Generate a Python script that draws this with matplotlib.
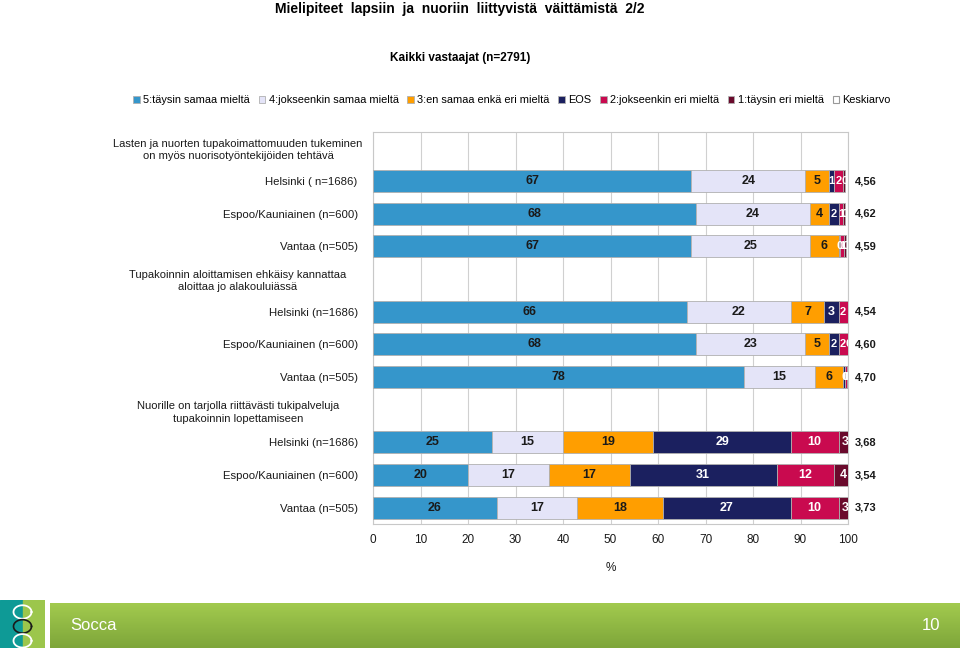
import numpy as np
import matplotlib.pyplot as plt
from matplotlib.patches import Rectangle

plt.rcParams['font.family'] = ['Liberation Sans', 'DejaVu Sans']

# data
series = ['5:täysin samaa mieltä', '4:jokseenkin samaa mieltä', '3:en samaa enkä eri mieltä',
          'EOS', '2:jokseenkin eri mieltä', '1:täysin eri mieltä']
colors = ['#3596CB', '#E4E4F8', '#FF9E00', '#1B205F', '#C90A4F', '#6A0A2C']
text_colors = ['#1a1a1a', '#1a1a1a', '#1a1a1a', 'white', 'white', 'white']

headers = ['Lasten ja nuorten tupakoimattomuuden tukeminen\non myös nuorisotyöntekijöiden tehtävä',
           'Tupakoinnin aloittamisen ehkäisy kannattaa\naloittaa jo alakouluiässä',
           'Nuorille on tarjolla riittävästi tukipalveluja\ntupakoinnin lopettamiseen']
row_labels = ['Helsinki ( n=1686)', 'Espoo/Kauniainen (n=600)', 'Vantaa (n=505)',
              'Helsinki (n=1686)', 'Espoo/Kauniainen (n=600)', 'Vantaa (n=505)',
              'Helsinki (n=1686)', 'Espoo/Kauniainen (n=600)', 'Vantaa (n=505)']

s5 = [67, 68, 67, 66, 68, 78, 25, 20, 26]
s4 = [24, 24, 25, 22, 23, 15, 15, 17, 17]
s3 = [5, 4, 6, 7, 5, 6, 19, 17, 18]
eos = [1, 2, 0.4, 3, 2, 0.4, 29, 31, 27]
s2 = [2, 1, 0.8, 2, 2, 0.4, 10, 12, 10]
s1 = [0.4, 0.4, 0.4, 1, 0.4, 0.4, 3, 4, 3]
means = ['4,56', '4,62', '4,59', '4,54', '4,60', '4,70', '3,68', '3,54', '3,73']

data = np.array([s5, s4, s3, eos, s2, s1])

fig = plt.figure(figsize=(9.6, 6.48), dpi=100)
ax = fig.add_axes([373/960, 1 - 524/648, 475/960, 392/648])

# row positions: header rows 0, 4, 8 are empty
ypos = [1, 2, 3, 5, 6, 7, 9, 10, 11]
left = np.zeros(len(ypos))
for i in range(6):
    ax.barh(ypos, data[i], left=left, height=0.67, color=colors[i],
            edgecolor='#b0b0b0', linewidth=0.6, label=series[i], zorder=3)
    for j, y in enumerate(ypos):
        v = data[i][j]
        fs = 9 if v >= 2.5 else 8
        ax.text(left[j] + v / 2, y, '%.0f' % v, ha='center', va='center',
                fontsize=fs, fontweight='bold', color=text_colors[i], zorder=4,
                clip_on=True)
    left = left + data[i]

for j, y in enumerate(ypos):
    ax.text(101.5, y, means[j], ha='left', va='center', fontsize=8,
            fontweight='bold', color='#1a1a1a', clip_on=False)

ax.set_xlim(0, 100)
ax.set_ylim(11.5, -0.5)
ax.set_xticks(range(0, 101, 10))
ax.set_yticks(ypos)
ax.set_yticklabels(row_labels, fontsize=8.2, color='#1a1a1a')
ax.tick_params(axis='both', length=0)
ax.tick_params(axis='y', pad=11)
ax.tick_params(axis='x', labelsize=8.5, pad=7, labelcolor='#1a1a1a')
ax.grid(axis='x', color='#d0d0d0', linewidth=0.8, zorder=0)
for sp in ax.spines.values():
    sp.set_color('#c8c8c8')
ax.set_xlabel('%', fontsize=8.5, labelpad=12, color='#1a1a1a')

for k, h in enumerate(headers):
    y_fig = 1 - (150 + 4 * k * 32.8) / 648
    fig.text(238/960, y_fig, h, ha='center', va='center', fontsize=8,
             color='#1a1a1a', linespacing=1.3)

fig.text(460/960, 1 - 9/648, 'Mielipiteet  lapsiin  ja  nuoriin  liittyvistä  väittämistä  2/2',
         ha='center', va='center', fontsize=10, fontweight='bold')
fig.text(460/960, 1 - 58/648, 'Kaikki vastaajat (n=2791)', ha='center', va='center',
         fontsize=8.5, fontweight='bold')

handles, labels = ax.get_legend_handles_labels()
handles.append(Rectangle((0, 0), 1, 1, facecolor='white', edgecolor='#999999', linewidth=0.8))
labels.append('Keskiarvo')
fig.legend(handles, labels, loc='center', bbox_to_anchor=(512/960, 1 - 100/648), ncol=7,
           frameon=False, fontsize=7.9, handlelength=0.6, handleheight=0.6,
           handletextpad=0.3, columnspacing=0.8)

# footer banner
bax = fig.add_axes([50/960, 0, 910/960, 45/648])
grad = np.linspace(0, 1, 50).reshape(-1, 1)
bax.imshow(grad, aspect='auto', cmap=plt.matplotlib.colors.LinearSegmentedColormap.from_list(
    'g', ['#A2CA4E', '#7EA63A']), extent=[0, 1, 0, 1])
bax.set_axis_off()
bax.text(0.022, 0.5, 'Socca', color='white', fontsize=12, va='center', ha='left')
bax.text(0.978, 0.5, '10', color='white', fontsize=12, va='center', ha='right')

lax = fig.add_axes([0, 0, 45/960, 48/648])
lax.add_patch(Rectangle((0, 0), 0.5, 1, color='#0E9A96'))
lax.add_patch(Rectangle((0.5, 0), 0.5, 1, color='#9CC64C'))
t = np.linspace(0, 2 * np.pi, 100)
lax.plot(0.5 + 0.2 * np.cos(t), 0.75 + 0.14 * np.sin(t), color='white', lw=1.3)
lax.plot(0.5 + 0.2 * np.cos(t), 0.45 + 0.14 * np.sin(t), color='#1a1a1a', lw=1.2)
lax.plot(0.5 + 0.2 * np.cos(t), 0.15 + 0.14 * np.sin(t), color='white', lw=1.3)
lax.set_xlim(0, 1)
lax.set_ylim(0, 1)
lax.set_axis_off()

fig.savefig('out.png', dpi=100)
